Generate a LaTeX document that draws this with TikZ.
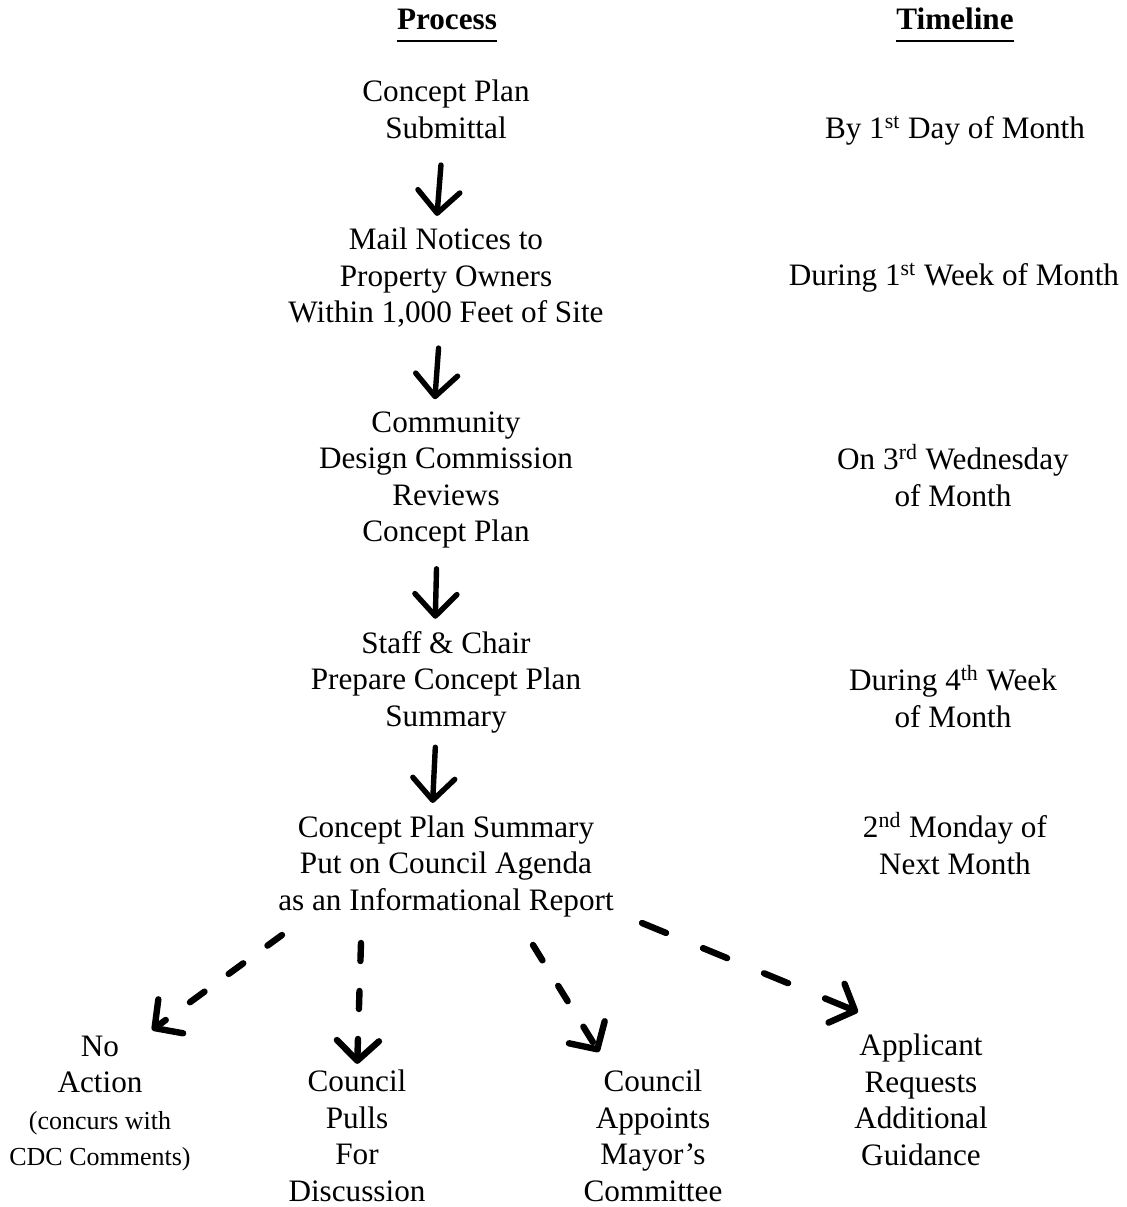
\documentclass[tikz,border=0pt]{standalone}
\usepackage{fontspec}
\setmainfont{Liberation Serif}
\usetikzlibrary{arrows.meta}
\newcommand\mainfs{\fontsize{15.6pt}{18.25pt}\selectfont}
\newcommand\smallfs{\fontsize{13pt}{17.5pt}\selectfont}

\begin{document}
\begin{tikzpicture}[x=0.5pt, y=-0.5pt,
	proc/.style={align=center, inner sep=0pt, font=\mainfs},
	heading/.style={inner sep=0pt, font=\mainfs\bfseries, anchor=base},
	uline/.style={line width=1.1pt},
	flow/.style={line width=2.7pt, line cap=round, line join=round, -{Straight Barb[length=11pt,width=21pt,round]}, shorten <=10pt, shorten >=6pt},
	dflow/.style={line width=3.2pt, line cap=round, line join=round, dash pattern=on 9pt off 15pt, -{Straight Barb[length=10pt,width=21pt,round]}}]
				\useasboundingbox (0,0) rectangle (1127,1207);
				% column headings
				\node (proc) [heading] at (447,29) {Process};
				\node (time) [heading] at (955,29) {Timeline};
				\draw [uline] ([yshift=-6pt]proc.base west) -- ([yshift=-6pt]proc.base east);
				\draw [uline] ([yshift=-6pt]time.base west) -- ([yshift=-6pt]time.base east);
				% process column
				\node (plan) [proc] at (446,109.5) {Concept Plan\\Submittal};
				\node (notices) [proc] at (446,278) {Mail Notices to\\Property Owners\\Within 1,000 Feet of Site};
				\node (review) [proc] at (446,480) {Community\\Design Commission\\Reviews\\Concept Plan};
				\node (prepare) [proc] at (446,682) {Staff \& Chair\\Prepare Concept Plan\\Summary};
				\node (agenda) [proc] at (446,866) {Concept Plan Summary\\Put on Council Agenda\\as an Informational Report};
				% timeline column
				\node (t1) [proc] at (955,130.5) {By 1\textsuperscript{st} Day of Month};
				\node (t2) [proc] at (954,277.5) {During 1\textsuperscript{st} Week of Month};
				\node (t3) [proc] at (953,475.5) {On 3\textsuperscript{rd} Wednesday\\of Month};
				\node (t4) [proc] at (953,696.5) {During 4\textsuperscript{th} Week\\of Month};
				\node (t5) [proc] at (955,843.5) {2\textsuperscript{nd} Monday of\\Next Month};
				% outcomes
				\node (noaction) [proc] at (100,1103.5) {No\\Action\\{\smallfs(concurs with}\\{\smallfs CDC Comments)}};
				\node (pulls) [proc] at (357,1136) {Council\\Pulls\\For\\Discussion};
				\node (appoints) [proc] at (653,1136) {Council\\Appoints\\Mayor's\\Committee};
				\node (guidance) [proc] at (921,1100) {Applicant\\Requests\\Additional\\Guidance};
				% solid arrows
				\draw [flow, shorten <=13pt] ([xshift=-1.5pt]plan.south) -- ([xshift=-5pt]notices.north);
				\draw [flow] ([xshift=-3pt]notices.south) -- ([xshift=-6pt]review.north);
				\draw [flow] ([xshift=-4.5pt]review.south) -- ([xshift=-5.5pt]prepare.north);
				\draw [flow, shorten <=7pt] ([xshift=-5pt]prepare.south) -- ([xshift=-7pt]agenda.north);
				% dashed arrows
				\coordinate (s1) at (282,935);
				\coordinate (e1) at (152,1030);
				\coordinate (s2) at (361,943);
				\coordinate (s3) at (533,945);
				\coordinate (e3) at (599,1052);
				\coordinate (s4) at (642,923);
				\coordinate (e4) at (858,1012);
				\draw [dflow] (s1) -- (e1);
				\draw [dflow, shorten >=3pt] (s2) -- (pulls.north);
				\draw [dflow] (s3) -- (e3);
				\draw [dflow, dash pattern=on 13pt off 20pt] (s4) -- (e4);
			\end{tikzpicture}
\end{document}
